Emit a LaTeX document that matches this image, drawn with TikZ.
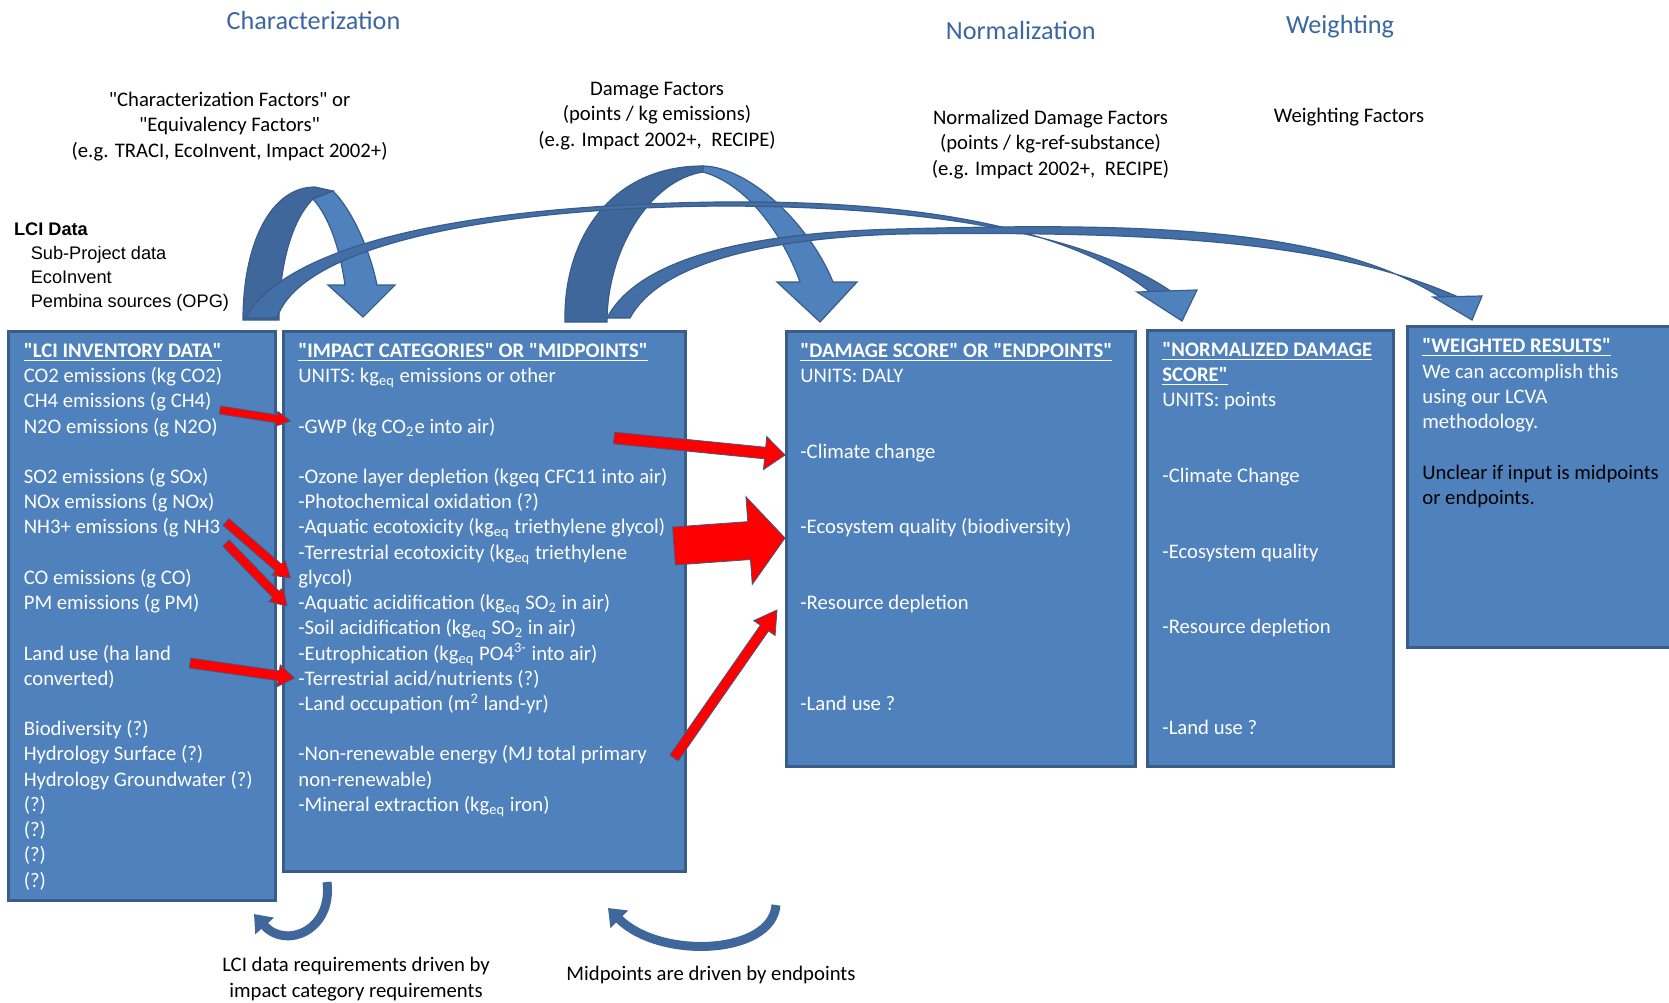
\documentclass[tikz,border=0pt]{standalone}
\usepackage{fontspec}
\setmainfont{Carlito}[Ligatures=TeXOff]
\newfontfamily\arialfont{Liberation Sans}
\usepackage{xcolor}
\usepackage{tikz}
\usetikzlibrary{calc,arrows.meta}

\definecolor{boxblue}{RGB}{79,129,189}
\definecolor{boxedge}{RGB}{56,93,138}
\definecolor{archdark}{RGB}{63,103,155}
\definecolor{thinblue}{RGB}{68,110,166}
\definecolor{titleblue}{RGB}{58,103,160}
\lineskiplimit=-\maxdimen

\newcommand{\boxfont}{\fontsize{10.35}{12.61}\selectfont}
\newcommand{\kgeq}{kg\textsubscript{eq}}
\newcommand{\boxhead}[1]{\underline{\textbf{#1}}}
\newcommand{\topstrut}{\rule{0pt}{10pt}}
% red block arrow: tail, tip, half shaft, half head, head length
\newcommand{\redarrow}[5]{%
  \coordinate (ra-h) at ($(#2)!#5!(#1)$);
  \filldraw[redarr] ($(#1)!#3!90:(#2)$) -- ($(ra-h)!#3!-90:(#1)$)
    -- ($(ra-h)!#4!-90:(#1)$) -- (#2) -- ($(ra-h)!#4!90:(#1)$)
    -- ($(ra-h)!#3!90:(#1)$) -- ($(#1)!#3!-90:(#2)$) -- cycle;}

\tikzset{
  box/.style={fill=boxblue, draw=boxedge, line width=1.5pt},
  boxtext/.style={anchor=north west, inner sep=0pt, align=left, text=white, font=\boxfont},
  factor/.style={inner sep=0pt, align=center, font=\fontsize{10.35}{12.65}\selectfont},
  stage/.style={anchor=base, inner sep=0pt, text=titleblue, font=\fontsize{13.1}{16}\selectfont},
  redarr/.style={fill=red, draw=boxedge, line width=0.4pt},
  archback/.style={fill=archdark, draw=boxedge, line width=0.6pt},
  archfront/.style={fill=boxblue, draw=boxedge, line width=0.6pt},
  thinarc/.style={fill=thinblue, draw=boxedge, line width=0.6pt},
  loopback/.style={draw=archdark, line width=4.5pt, -{Triangle[length=8pt,width=12pt]}}
}

\begin{document}
\begin{tikzpicture}[x=0.5pt,y=-0.5pt]
  \useasboundingbox (0,0) rectangle (1669,1002);
  % Stages
  \node[stage] (charact) at (313.5,29.5) {Characterization};
  \node[stage] (normal) at (1020.7,39.3) {Normalization};
  \node[stage] (weight) at (1340,33.3) {Weighting};
  % Factors (top of node = first baseline - 20)
  \node[factor, anchor=north] (charfac) at (229.6,86) {\topstrut"Characterization Factors" or\\"Equivalency Factors"\\(e.g. TRACI, EcoInvent, Impact 2002+)};
  \node[factor, anchor=north] (damfac) at (657,75) {\topstrut Damage Factors\\(points / kg emissions)\\(e.g. Impact 2002+, \ RECIPE)};
  \node[factor, anchor=north] (normfac) at (1050.5,104) {\topstrut Normalized Damage Factors\\(points / kg-ref-substance)\\(e.g. Impact 2002+, \ RECIPE)};
  \node[factor, anchor=base] (weightfac) at (1349,122.7) {Weighting Factors};
  % LCI data sources
  \node[anchor=base west, inner sep=0pt, font=\arialfont\bfseries\fontsize{9.1}{11.9}\selectfont] (lcidata) at (13.6,235) {LCI Data};
  \node[anchor=north west, inner sep=0pt, align=left, font=\arialfont\fontsize{9.1}{11.9}\selectfont] (lcisrc) at (30.4,239) {\topstrut Sub-Project data\\EcoInvent\\Pembina sources (OPG)};

  % Boxes
  \draw[box] (8,331) rectangle (275,900);
  \draw[box] (283,331) rectangle (685,871);
  \draw[box] (786,331) rectangle (1135,766);
  \draw[box] (1147,330) rectangle (1393,766);
  \draw[box] (1407,326) rectangle (1690,647);

  \node[boxtext] (lcitxt) at (23.4,337) {\topstrut\boxhead{"LCI INVENTORY DATA"}\\
    CO2 emissions (kg CO2)\\CH4 emissions (g CH4)\\N2O emissions (g N2O)\\[12.61pt]
    SO2 emissions (g SOx)\\NOx emissions (g NOx)\\NH3+ emissions (g NH3\\[12.61pt]
    CO emissions (g CO)\\PM emissions (g PM)\\[12.61pt]
    Land use (ha land\\converted)\\[12.61pt]
    Biodiversity (?)\\Hydrology Surface (?)\\Hydrology Groundwater (?)\\(?)\\(?)\\(?)\\(?)};
  \node[boxtext] (midtxt) at (298,337) {\topstrut\boxhead{"IMPACT CATEGORIES" OR "MIDPOINTS"}\\
    UNITS: \kgeq{} emissions or other\\[12.61pt]
    -GWP (kg CO\textsubscript{2}e into air)\\[12.61pt]
    -Ozone layer depletion (kgeq CFC11 into air)\\
    -Photochemical oxidation (?)\\
    -Aquatic ecotoxicity (\kgeq{} triethylene glycol)\\
    -Terrestrial ecotoxicity (\kgeq{} triethylene\\glycol)\\
    -Aquatic acidification (\kgeq{} SO\textsubscript{2} in air)\\
    -Soil acidification (\kgeq{} SO\textsubscript{2} in air)\\
    -Eutrophication (\kgeq{} PO4\textsuperscript{3-} into air)\\
    -Terrestrial acid/nutrients (?)\\
    -Land occupation (m\textsuperscript{2} land-yr)\\[12.61pt]
    -Non-renewable energy (MJ total primary\\non-renewable)\\
    -Mineral extraction (\kgeq{} iron)};
  \node[boxtext] (endtxt) at (800,337) {\topstrut\boxhead{"DAMAGE SCORE" OR "ENDPOINTS"}\\
    UNITS: DALY\\[25.22pt]
    -Climate change\\[25.22pt]
    -Ecosystem quality (biodiversity)\\[25.22pt]
    -Resource depletion\\[37.83pt]
    -Land use ?};
  \node[boxtext] (normtxt) at (1162,336) {\topstrut\boxhead{"NORMALIZED DAMAGE}\\\boxhead{SCORE"}\\
    UNITS: points\\[25.22pt]
    -Climate Change\\[25.22pt]
    -Ecosystem quality\\[25.22pt]
    -Resource depletion\\[37.83pt]
    -Land use ?};
  \node[boxtext] (wtxt) at (1422,332.5) {\topstrut\boxhead{"WEIGHTED RESULTS"}\\
    We can accomplish this\\using our LCVA\\methodology.\\[12.61pt]
    \textcolor{black}{Unclear if input is midpoints}\\
    \textcolor{black}{or endpoints.}};

  % Big curved arrows
  \filldraw[archback] (243,320) .. controls (243,245) and (270,187) .. (315,187) -- (333,191) -- (313,199) .. controls (290,222) and (279,270) .. (279,320) -- cycle;
  \filldraw[archfront] (313,199) -- (333,191) .. controls (352,210) and (370,250) .. (377,285) -- (395,285) -- (363,317) -- (328,285) -- (345,285) .. controls (340,250) and (330,218) .. (313,199) -- cycle;
  \filldraw[archback] (565,322) .. controls (563,240) and (610,166) .. (703,166) -- (703,172) .. controls (650,180) and (607,250) .. (607,322) -- cycle;
  \filldraw[archfront] (703,166) .. controls (750,167) and (810,225) .. (833,282) -- (857,282) -- (820,322) -- (777,282) -- (800,282) .. controls (785,240) and (750,185) .. (703,172) -- cycle;

  % Long thin arrows
  \filldraw[thinarc] (245,318) .. controls (290,240) and (480,205) .. (720,202) .. controls (920,200) and (1070,228) .. (1150,292) -- (1172,292) .. controls (1085,232) and (920,206) .. (720,206) .. controls (480,208) and (300,248) .. (277,318) -- cycle;
  \filldraw[archfront] (1137,292) -- (1197,290) -- (1182,321) -- cycle;
  \filldraw[thinarc] (607,318) .. controls (640,255) and (760,232) .. (900,229) .. controls (1150,222) and (1330,228) .. (1440,297) -- (1458,297) .. controls (1330,240) and (1150,231) .. (900,234) .. controls (770,238) and (660,262) .. (630,318) -- cycle;
  \filldraw[archfront] (1433,297) -- (1482,296) -- (1472,320) -- cycle;

  % Red arrows
  \coordinate (ch4) at (220,410);
  \coordinate (gwp) at (290.5,421);
  \coordinate (nh3a) at (226,522);
  \coordinate (glyc) at (290.5,578);
  \coordinate (nh3b) at (226,543);
  \coordinate (aqac) at (287,606);
  \coordinate (land) at (190,663);
  \coordinate (tacid) at (294.5,678);
  \coordinate (gwpo) at (614,438);
  \coordinate (clim) at (785,455);
  \coordinate (ecoo) at (674,546);
  \coordinate (ecos) at (785,538);
  \coordinate (nre) at (674,758);
  \coordinate (resd) at (777,610);
  \redarrow{ch4}{gwp}{2pt}{3.75pt}{7pt}
  \redarrow{nh3a}{glyc}{2.25pt}{5pt}{8pt}
  \redarrow{nh3b}{aqac}{2.25pt}{5pt}{8pt}
  \redarrow{land}{tacid}{2.5pt}{5.5pt}{8pt}
  \redarrow{gwpo}{clim}{2.9pt}{8.3pt}{10pt}
  \redarrow{ecoo}{ecos}{9.5pt}{22pt}{18pt}
  \redarrow{nre}{resd}{2.5pt}{6.5pt}{11pt}

  % Feedback arrows
  \draw[loopback] (327,882) .. controls (333,930) and (286,950) .. (254,914);
  \draw[loopback] (776,905) .. controls (772,955) and (660,960) .. (608,908);
  \node[factor, anchor=north] (lcireq) at (356,951.5) {\topstrut LCI data requirements driven by\\impact category requirements};
  \node[factor, anchor=base] (midreq) at (711,980) {Midpoints are driven by endpoints};
\end{tikzpicture}
\end{document}
